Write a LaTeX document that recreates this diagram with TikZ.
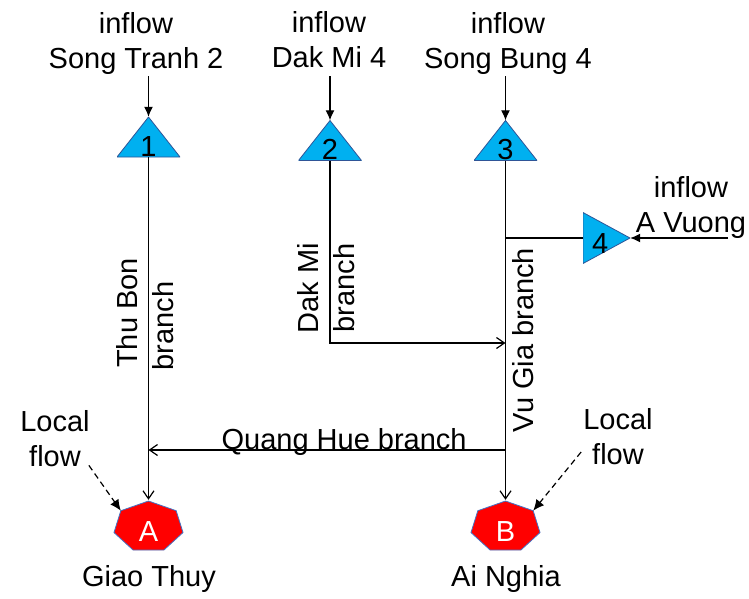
\documentclass[tikz,border=0pt]{standalone}
\usepackage{fontspec}
\setmainfont{Liberation Sans}
\usetikzlibrary{arrows.meta,positioning,calc}
\definecolor{resblue}{HTML}{00B0F0}
\definecolor{resedge}{HTML}{2F5597}
\definecolor{sinkred}{HTML}{FF0000}
\definecolor{sinkedge}{HTML}{4472C4}

\begin{document}
\begin{tikzpicture}[x=1pt, y=-1pt,
  every node/.style={font=\fontsize{29}{35}\selectfont, inner sep=2pt},
  resup/.style={minimum width=63pt, minimum height=40pt, inner sep=0pt, text height=38pt, text depth=0pt,
    path picture={\filldraw[fill=resblue, draw=resedge, line width=0.8pt]
      (path picture bounding box.south west) -- (path picture bounding box.north)
      -- (path picture bounding box.south east) -- cycle;}},
  resright/.style={minimum width=47pt, minimum height=51pt, inner sep=0pt, text height=31pt, text depth=0pt,
    text width=29pt, align=left,
    path picture={\filldraw[fill=resblue, draw=resedge, line width=0.8pt]
      (path picture bounding box.north west) -- (path picture bounding box.east)
      -- (path picture bounding box.south west) -- cycle;}},
  sink/.style={minimum width=71pt, minimum height=51pt, inner sep=0pt, text=white, text height=31pt, text depth=0pt},
  sinkshape/.style={fill=sinkred, draw=sinkedge, line width=0.8pt},
  flow/.style={line width=1.2pt},
  inarr/.style={flow, -{Latex[length=10pt,width=9pt]}},
  brarr/.style={flow, -{Straight Barb[length=8pt,width=11pt]}},
  localarr/.style={flow, dash pattern=on 6pt off 4pt, -{Latex[length=11pt,width=10pt]}},
]
\useasboundingbox (0,0) rectangle (749,598);

% Reservoirs with their inflows (top row)
\foreach \n/\x/\y/\lx/\ly/\src in {%
  1/148.5/137/136/43/{Song Tranh 2},
  2/330/140.5/329/40/{Dak Mi 4},
  3/505.5/140.5/508/43/{Song Bung 4}%
} {
  \node[resup] (r\n) at (\x,\y) {\n};
  \node[align=center] (in\n) at (\lx,\ly) {inflow\\\src};
  \draw[inarr] (r\n.north |- in1.south) -- (r\n.north);
}

% Reservoir 4 on the Vu Gia side
\node[resright] (r4) at (606.5,238) {4};
\node[align=center] (in4) at (691,207) {inflow\\A Vuong};
\coordinate (av) at (728,238);
\draw[inarr] (av) -- (r4.east);
\draw[flow] (r3.south |- r4.west) -- (r4.west);

% Outlets (flattened heptagons)
\foreach \s/\x in {A/148.5, B/505.5} {
  \filldraw[sinkshape] plot[variable=\k, samples at={0,...,6}]
    ({\x+35.4*cos(90+\k*360/7)}, {526.8-25.8*sin(90+\k*360/7)}) -- cycle;
  \node[sink] (\s) at (\x,525.5) {\s};
}
\node[anchor=base] (gt) at (149,586) {Giao Thuy};
\node[anchor=base] (an) at (506,586) {Ai Nghia};

% Branches
\draw[brarr] (r1.south) -- (A.north);
\draw[brarr] (r3.south) -- (B.north);
\coordinate (dj) at (r3.south |- 0,343);
\draw[brarr] (r2.south) |- (dj);
\coordinate (qh) at (r3.south |- 0,450);
\draw[brarr] (qh) -- (qh -| r1.south)
  node[pos=0.452, anchor=base, yshift=1pt] (qhl) {Quang Hue branch};

\node[rotate=90, anchor=base] (tb1) at (137,313) {Thu Bon};
\node[rotate=90, anchor=base] (tb2) at (173,326) {branch};
\node[rotate=90, anchor=base] (dm1) at (318,288) {Dak Mi};
\node[rotate=90, anchor=base] (dm2) at (354,288) {branch};
\node[rotate=90, anchor=base] (vg) at (533,340) {Vu Gia branch};

% Local flows
\node[align=center] (lfA) at (55,439) {Local\\flow};
\node[align=center] (lfB) at (618,437) {Local\\flow};
\coordinate (Aul) at ([shift={(-27.7,-14.8)}]A.center);
\coordinate (Bur) at ([shift={(27.7,-14.8)}]B.center);
\draw[localarr] ([shift={(-3,-4)}]lfA.south east) -- (Aul);
\draw[localarr] ([yshift=-15pt]lfB.west) -- (Bur);
\end{tikzpicture}
\end{document}
